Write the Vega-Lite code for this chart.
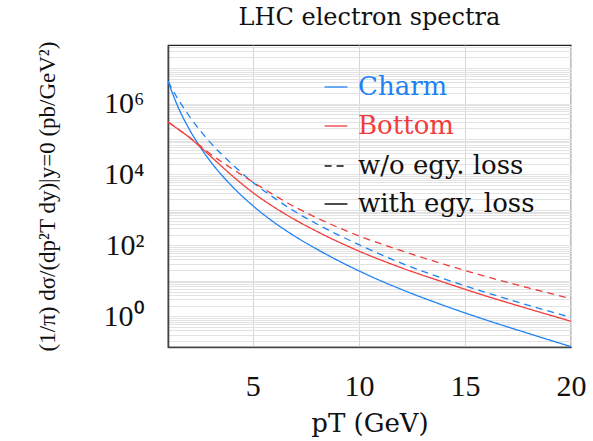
{
  "$schema": "https://vega.github.io/schema/vega-lite/v6.json",
  "width": 403,
  "height": 302,
  "autosize": {"type": "none"},
  "padding": {"left": 168, "top": 45, "right": 22, "bottom": 94},
  "background": "white",
  "config": {
    "font": "DejaVu Serif",
    "view": {"stroke": "#222", "strokeWidth": 1.2},
    "axis": {"labelFont": "Liberation Serif", "titleFont": "DejaVu Serif", "labelColor": "#111", "titleColor": "#111", "titleFontWeight": "normal"}
  },
  "title": {"text": "LHC electron spectra", "fontSize": 24, "font": "DejaVu Serif", "fontWeight": "normal", "color": "#111", "anchor": "middle", "offset": 2},
  "data": {
    "values": [
      {"pt": 1, "v": 4270000, "q": "Charm", "e": "with egy. loss"},
      {"pt": 1.5, "v": 741000, "q": "Charm", "e": "with egy. loss"},
      {"pt": 2, "v": 191000, "q": "Charm", "e": "with egy. loss"},
      {"pt": 2.5, "v": 61700, "q": "Charm", "e": "with egy. loss"},
      {"pt": 3, "v": 23400, "q": "Charm", "e": "with egy. loss"},
      {"pt": 4, "v": 4790, "q": "Charm", "e": "with egy. loss"},
      {"pt": 5, "v": 1318, "q": "Charm", "e": "with egy. loss"},
      {"pt": 6, "v": 447, "q": "Charm", "e": "with egy. loss"},
      {"pt": 7, "v": 178, "q": "Charm", "e": "with egy. loss"},
      {"pt": 8, "v": 79.4, "q": "Charm", "e": "with egy. loss"},
      {"pt": 10, "v": 19.1, "q": "Charm", "e": "with egy. loss"},
      {"pt": 12, "v": 5.75, "q": "Charm", "e": "with egy. loss"},
      {"pt": 14, "v": 2.02, "q": "Charm", "e": "with egy. loss"},
      {"pt": 16, "v": 0.785, "q": "Charm", "e": "with egy. loss"},
      {"pt": 18, "v": 0.327, "q": "Charm", "e": "with egy. loss"},
      {"pt": 20, "v": 0.139, "q": "Charm", "e": "with egy. loss"},

      {"pt": 1, "v": 4270000, "q": "Charm", "e": "w/o egy. loss"},
      {"pt": 1.5, "v": 1260000, "q": "Charm", "e": "w/o egy. loss"},
      {"pt": 2, "v": 447000, "q": "Charm", "e": "w/o egy. loss"},
      {"pt": 3, "v": 79400, "q": "Charm", "e": "w/o egy. loss"},
      {"pt": 4, "v": 20000, "q": "Charm", "e": "w/o egy. loss"},
      {"pt": 5, "v": 6030, "q": "Charm", "e": "w/o egy. loss"},
      {"pt": 6, "v": 2190, "q": "Charm", "e": "w/o egy. loss"},
      {"pt": 7, "v": 891, "q": "Charm", "e": "w/o egy. loss"},
      {"pt": 8, "v": 407, "q": "Charm", "e": "w/o egy. loss"},
      {"pt": 10, "v": 105, "q": "Charm", "e": "w/o egy. loss"},
      {"pt": 12, "v": 31.6, "q": "Charm", "e": "w/o egy. loss"},
      {"pt": 14, "v": 11.5, "q": "Charm", "e": "w/o egy. loss"},
      {"pt": 16, "v": 4.68, "q": "Charm", "e": "w/o egy. loss"},
      {"pt": 18, "v": 2.04, "q": "Charm", "e": "w/o egy. loss"},
      {"pt": 20, "v": 0.933, "q": "Charm", "e": "w/o egy. loss"},

      {"pt": 1, "v": 302000, "q": "Bottom", "e": "with egy. loss"},
      {"pt": 1.5, "v": 186000, "q": "Bottom", "e": "with egy. loss"},
      {"pt": 2, "v": 112000, "q": "Bottom", "e": "with egy. loss"},
      {"pt": 2.5, "v": 61700, "q": "Bottom", "e": "with egy. loss"},
      {"pt": 3, "v": 33100, "q": "Bottom", "e": "with egy. loss"},
      {"pt": 4, "v": 9550, "q": "Bottom", "e": "with egy. loss"},
      {"pt": 5, "v": 3090, "q": "Bottom", "e": "with egy. loss"},
      {"pt": 6, "v": 1200, "q": "Bottom", "e": "with egy. loss"},
      {"pt": 7, "v": 525, "q": "Bottom", "e": "with egy. loss"},
      {"pt": 8, "v": 251, "q": "Bottom", "e": "with egy. loss"},
      {"pt": 10, "v": 69.2, "q": "Bottom", "e": "with egy. loss"},
      {"pt": 12, "v": 23.4, "q": "Bottom", "e": "with egy. loss"},
      {"pt": 14, "v": 9.12, "q": "Bottom", "e": "with egy. loss"},
      {"pt": 16, "v": 3.72, "q": "Bottom", "e": "with egy. loss"},
      {"pt": 18, "v": 1.62, "q": "Bottom", "e": "with egy. loss"},
      {"pt": 20, "v": 0.724, "q": "Bottom", "e": "with egy. loss"},

      {"pt": 1, "v": 302000, "q": "Bottom", "e": "w/o egy. loss"},
      {"pt": 1.5, "v": 186000, "q": "Bottom", "e": "w/o egy. loss"},
      {"pt": 2, "v": 112000, "q": "Bottom", "e": "w/o egy. loss"},
      {"pt": 2.5, "v": 66100, "q": "Bottom", "e": "w/o egy. loss"},
      {"pt": 3, "v": 38000, "q": "Bottom", "e": "w/o egy. loss"},
      {"pt": 4, "v": 14800, "q": "Bottom", "e": "w/o egy. loss"},
      {"pt": 5, "v": 6170, "q": "Bottom", "e": "w/o egy. loss"},
      {"pt": 6, "v": 2630, "q": "Bottom", "e": "w/o egy. loss"},
      {"pt": 7, "v": 1200, "q": "Bottom", "e": "w/o egy. loss"},
      {"pt": 8, "v": 603, "q": "Bottom", "e": "w/o egy. loss"},
      {"pt": 10, "v": 186, "q": "Bottom", "e": "w/o egy. loss"},
      {"pt": 12, "v": 70.8, "q": "Bottom", "e": "w/o egy. loss"},
      {"pt": 14, "v": 29.5, "q": "Bottom", "e": "w/o egy. loss"},
      {"pt": 16, "v": 13.2, "q": "Bottom", "e": "w/o egy. loss"},
      {"pt": 18, "v": 6.31, "q": "Bottom", "e": "w/o egy. loss"},
      {"pt": 20, "v": 3.16, "q": "Bottom", "e": "w/o egy. loss"}
    ]
  },
  "mark": {"type": "line", "strokeWidth": 1.3, "interpolate": "monotone", "clip": true},
  "encoding": {
    "x": {
      "field": "pt", "type": "quantitative",
      "scale": {"domain": [1, 20], "nice": false, "zero": false},
      "axis": {
        "values": [5, 10, 15, 20], "ticks": false, "grid": true, "gridColor": "#d6d6d6", "gridWidth": 1,
        "domainColor": "#444", "domainWidth": 1.6,
        "labelFontSize": 30, "labelPadding": 24, "labelFlush": false,
        "title": "pT (GeV)", "titleFontSize": 26, "titlePadding": 9
      }
    },
    "y": {
      "field": "v", "type": "quantitative",
      "scale": {"type": "log", "domain": [0.136, 45000000], "nice": false},
      "axis": {
        "values": [0.2,0.3,0.4,0.5,0.6,0.7,0.8,0.9,1,2,3,4,5,6,7,8,9,10,20,30,40,50,60,70,80,90,100,200,300,400,500,600,700,800,900,1000,2000,3000,4000,5000,6000,7000,8000,9000,10000,20000,30000,40000,50000,60000,70000,80000,90000,100000,200000,300000,400000,500000,600000,700000,800000,900000,1000000,2000000,3000000,4000000,5000000,6000000,7000000,8000000,9000000,10000000,20000000,30000000,40000000],
        "labelExpr": "datum.value == 1 ? '10⁰' : datum.value == 100 ? '10²' : datum.value == 10000 ? '10⁴' : datum.value == 1000000 ? '10⁶' : ''",
        "labelOverlap": false, "labelFlush": false,
        "ticks": false, "grid": true, "gridColor": "#e2e2e2", "gridWidth": 1,
        "domainColor": "#444", "domainWidth": 1.6,
        "labelFontSize": 30, "labelPadding": 24,
        "title": "(1/π) dσ/(dp²T dy)|y=0  (pb/GeV²)", "titleFont": "Liberation Serif", "titleFontSize": 23, "titlePadding": 44
      }
    },
    "color": {
      "field": "q", "type": "nominal",
      "scale": {"domain": ["Charm", "Bottom"], "range": ["#1E82F5", "#F03C3C"]},
      "legend": {
        "orient": "none", "legendX": 155, "legendY": 29, "title": null,
        "labelFontSize": 26, "labelFont": "DejaVu Serif", "labelOffset": 9, "labelLimit": 400,
        "symbolType": "stroke", "symbolSize": 520, "symbolStrokeWidth": 1.3,
        "rowPadding": 13,
        "encode": {"labels": {"update": {"fill": {"signal": "datum.value === 'Charm' ? '#1E82F5' : '#F03C3C'"}}}}
      }
    },
    "strokeDash": {
      "field": "e", "type": "nominal",
      "scale": {"domain": ["w/o egy. loss", "with egy. loss"], "range": [[7, 5], [1, 0]]},
      "legend": {
        "orient": "none", "legendX": 155, "legendY": 108, "title": null,
        "labelFontSize": 26, "labelFont": "DejaVu Serif", "labelColor": "#111", "labelOffset": 9, "labelLimit": 400,
        "symbolType": "stroke", "symbolSize": 520, "symbolStrokeWidth": 1.3, "symbolStrokeColor": "#111",
        "rowPadding": 12
      }
    }
  }
}
